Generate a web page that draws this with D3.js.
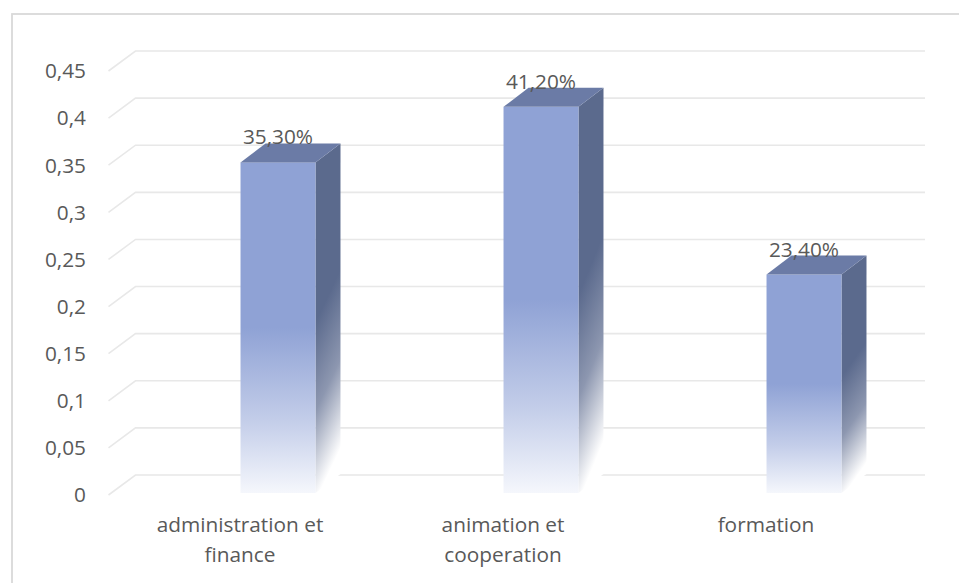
<!DOCTYPE html>
<html>
<head>
<meta charset="utf-8">
<script src="https://cdn.jsdelivr.net/npm/d3@7"></script>
<style>
  html, body { margin: 0; padding: 0; background: #ffffff; }
  svg { display: block; }
  text { font-family: "Open Sans", "Noto Sans", sans-serif; fill: #595959; }
</style>
</head>
<body>
<svg id="chart" width="959" height="583"></svg>
<script>
// Share of staff by department
const categories = ["administration et finance", "animation et cooperation", "formation"];
const categoryLines = [["administration et", "finance"], ["animation et", "cooperation"], ["formation"]];
const values = [0.353, 0.412, 0.234];
const valueLabels = ["35,30%", "41,20%", "23,40%"];
const yTicks = [0, 0.05, 0.1, 0.15, 0.2, 0.25, 0.3, 0.35, 0.4, 0.45];
const yTickLabels = ["0", "0,05", "0,1", "0,15", "0,2", "0,25", "0,3", "0,35", "0,4", "0,45"];

const svg = d3.select("#chart");
const W = 959, H = 583;
const fontSize = "20.8px";

// 3D projection offsets (depth of the floor / wall)
const wallDX = 27, wallDY = -20;
const barDX = 25, barDY = -19;

// chart frame border (top + left edges visible)
svg.append("rect")
  .attr("x", 12).attr("y", 14)
  .attr("width", W + 20).attr("height", H + 20)
  .attr("fill", "none")
  .attr("stroke", "#d9d9d9")
  .attr("stroke-width", 1.8);

// scales: front plane
const y = d3.scaleLinear().domain([0, 0.45]).range([495, 71]);
const x = d3.scaleBand().domain(categories).range([108.5, 897.5]).padding(0);
const backRight = 925;

// gridlines: side-wall diagonal + back-wall horizontal
svg.append("g").selectAll("path")
  .data(yTicks)
  .join("path")
  .attr("d", t => {
    const yf = y(t);
    return `M${x.range()[0]},${yf} L${x.range()[0] + wallDX},${yf + wallDY} L${backRight},${yf + wallDY}`;
  })
  .attr("fill", "none")
  .attr("stroke", "#e8e8e8")
  .attr("stroke-width", 1.6);

// y axis labels
svg.append("g").selectAll("text")
  .data(yTicks)
  .join("text")
  .attr("x", 86)
  .attr("y", d => y(d))
  .attr("dy", "0.35em")
  .attr("text-anchor", "end")
  .style("font-size", fontSize)
  .text((d, i) => yTickLabels[i]);

// gradients
const defs = svg.append("defs");
const fg = defs.append("linearGradient").attr("id", "gFront").attr("x1", 0).attr("y1", 0).attr("x2", 0).attr("y2", 1);
fg.append("stop").attr("offset", "0%").attr("stop-color", "#8fa2d5");
fg.append("stop").attr("offset", "50%").attr("stop-color", "#8fa2d5");
fg.append("stop").attr("offset", "78%").attr("stop-color", "#c3cde9");
fg.append("stop").attr("offset", "100%").attr("stop-color", "#f5f7fc");
const sg = defs.append("linearGradient").attr("id", "gSide").attr("x1", 0).attr("y1", 0).attr("x2", 0.15).attr("y2", 1);
sg.append("stop").attr("offset", "0%").attr("stop-color", "#5b6a8d");
sg.append("stop").attr("offset", "50%").attr("stop-color", "#5b6a8d");
sg.append("stop").attr("offset", "75%").attr("stop-color", "#8d97b0");
sg.append("stop").attr("offset", "100%").attr("stop-color", "#ffffff");

// bars
const barShift = 38;
const barW = x.bandwidth() * 0.285;
const base = y(0) - 2;

const bars = svg.append("g").selectAll("g")
  .data(categories.map((c, i) => ({ c, v: values[i], label: valueLabels[i] })))
  .join("g");

bars.each(function(d) {
  const g = d3.select(this);
  const cx = x(d.c) + x.bandwidth() / 2 + barShift;
  const L = cx - barW / 2, R = cx + barW / 2, T = y(d.v);
  // side face
  g.append("path")
    .attr("d", `M${R},${T} L${R + barDX},${T + barDY} L${R + barDX},${base + barDY} L${R},${base} Z`)
    .attr("fill", "url(#gSide)");
  // front face
  g.append("rect")
    .attr("x", L).attr("y", T)
    .attr("width", barW).attr("height", base - T)
    .attr("fill", "url(#gFront)");
  // top face
  g.append("path")
    .attr("d", `M${L},${T} L${L + barDX},${T + barDY} L${R + barDX},${T + barDY} L${R},${T} Z`)
    .attr("fill", "#6b7ba6");
  // value label
  g.append("text")
    .attr("x", cx)
    .attr("y", T + barDY + 1)
    .attr("text-anchor", "middle")
    .style("font-size", fontSize)
    .text(d.label);
});

// category labels
svg.append("g").selectAll("text")
  .data(categories)
  .join("text")
  .attr("text-anchor", "middle")
  .style("font-size", fontSize)
  .each(function(c, i) {
    const t = d3.select(this);
    categoryLines[i].forEach((line, k) => {
      t.append("tspan")
        .attr("x", x(c) + x.bandwidth() / 2)
        .attr("y", 532 + k * 30)
        .text(line);
    });
  });
</script>
</body>
</html>
